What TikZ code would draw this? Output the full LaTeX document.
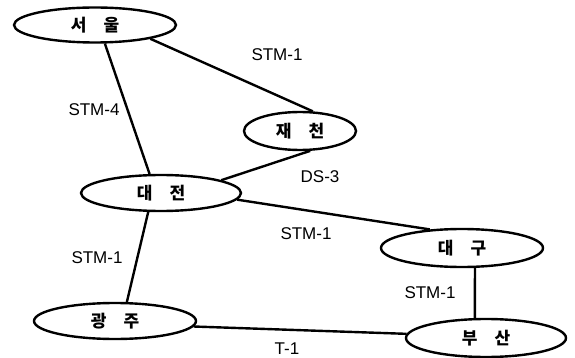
\documentclass[tikz,border=0pt]{standalone}
\usepackage{fontspec}
\setmainfont{Liberation Sans}
\newfontfamily\kr{Noto Sans CJK KR}
\usetikzlibrary{shapes.geometric}
\newcommand{\kpair}[2]{#1\hspace{17pt}#2}
\begin{document}
\begin{tikzpicture}[x=1pt,y=-1pt,
  city/.style={draw, ellipse, line width=2.4pt, inner sep=0pt, font=\kr\bfseries\fontsize{17}{17}\selectfont},
  link/.style={line width=2.4pt},
  lab/.style={font=\fontsize{17}{17}\selectfont, inner sep=0pt}]
\useasboundingbox (0,0) rectangle (575,358);
\node[city, minimum width=162, minimum height=35] (seoul) at (95,25) {\kpair{서}{울}};
\node[city, minimum width=112, minimum height=38] (jecheon) at (300,131) {\kpair{재}{천}};
\node[city, minimum width=160, minimum height=36] (daejeon) at (161,193) {\kpair{대}{전}};
\node[city, minimum width=162, minimum height=38] (daegu) at (462,248) {\kpair{대}{구}};
\node[city, minimum width=160, minimum height=38] (busan) at (486,338) {\kpair{부}{산}};
\node[city, minimum width=162, minimum height=36] (gwangju) at (115,321) {\kpair{광}{주}};

\draw[link] (seoul.-14) -- (jecheon.57);
\draw[link] (seoul.-62) -- (daejeon.121);
\draw[link] (jecheon.-63) -- (daejeon.12);
\draw[link] (daejeon.-5) -- (daegu.150);
\draw[link] (daejeon.-124) -- (gwangju.58);
\draw[link] (daegu.-57) -- (busan.119);
\draw[link] (gwangju.-4) -- (busan.177);

\node[lab] (l1) at (277,55) {STM-1};
\node[lab] (l2) at (94,110) {STM-4};
\node[lab] (l3) at (320,177) {DS-3};
\node[lab] (l4) at (306,234) {STM-1};
\node[lab] (l5) at (97,258) {STM-1};
\node[lab] (l6) at (430,293) {STM-1};
\node[lab] (l7) at (287,349) {T-1};
\end{tikzpicture}
\end{document}
